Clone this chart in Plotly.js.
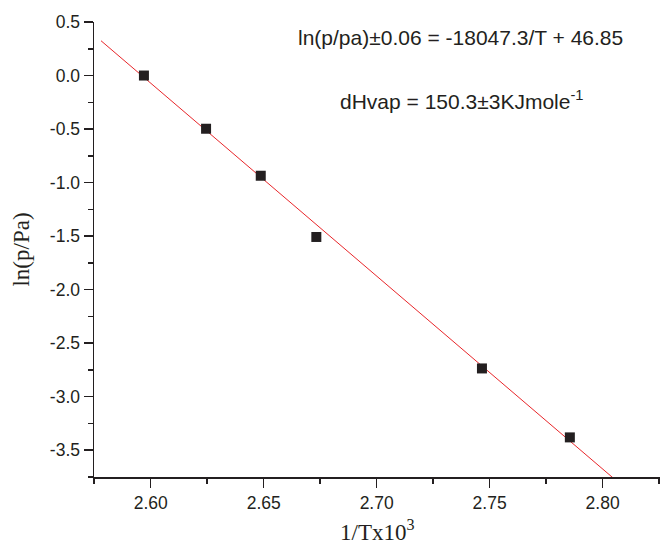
<!DOCTYPE html>
<html>
<head>
<meta charset="utf-8">
<script src="https://cdn.plot.ly/plotly-3.0.1.min.js"></script>
<style>html,body{margin:0;padding:0;background:#fff;}#chart{width:661px;height:544px;}</style>
</head>
<body>
<div id="chart"></div>
<script>
// measured points: 1/T x 10^3 and ln(p/Pa)
const invT = [2.597, 2.6245, 2.6487, 2.6733, 2.7466, 2.7855];
const lnP = [0.0, -0.497, -0.936, -1.508, -2.736, -3.380];
// fitted line endpoints (as drawn)
const fitX = [2.578, 2.805];
const fitY = [0.325, -3.765];
// tick labels
const xTickVals = [2.60, 2.65, 2.70, 2.75, 2.80];
const xTickText = ['2.60', '2.65', '2.70', '2.75', '2.80'];
const yTickVals = [0.5, 0.0, -0.5, -1.0, -1.5, -2.0, -2.5, -3.0, -3.5];
const yTickText = ['0.5', '0.0', '-0.5', '-1.0', '-1.5', '-2.0', '-2.5', '-3.0', '-3.5'];
const xTitle = '1/Tx10<sup>3</sup>';
const yTitle = 'ln(p/Pa)';
const eqText = 'ln(p/pa)±0.06 = -18047.3/T + 46.85';
const dhText = 'dHvap = 150.3±3KJmole<sup>-1</sup>';

const ink = '#231f20';
const traces = [
  {x: fitX, y: fitY, mode: 'lines', line: {color: '#e8262a', width: 1}, hoverinfo: 'skip'},
  {x: invT, y: lnP, mode: 'markers', marker: {symbol: 'square', size: 10, color: ink}}
];
const axisCommon = {
  showgrid: false, zeroline: false, showline: true, linecolor: ink, linewidth: 1.5,
  ticks: 'outside', ticklen: 9, tickwidth: 1.5, tickcolor: ink,
  tickfont: {family: 'Liberation Sans, Arial, sans-serif', size: 17.5, color: ink},
  mirror: false, tickmode: 'array'
};
const serif = {family: 'Liberation Serif, Times New Roman, serif', size: 23, color: ink};
const sans = {family: 'Liberation Sans, Arial, sans-serif', size: 21, color: ink};
const layout = {
  width: 661, height: 544,
  margin: {l: 94, r: 1, t: 22, b: 67},
  paper_bgcolor: '#fff', plot_bgcolor: '#fff',
  showlegend: false,
  xaxis: Object.assign({}, axisCommon, {
    range: [2.5749, 2.8254], tickvals: xTickVals, ticktext: xTickText,
    minor: {tickmode: 'linear', tick0: 2.575, dtick: 0.025, ticklen: 5, tickwidth: 1.5, tickcolor: ink, ticks: 'outside'}
  }),
  yaxis: Object.assign({}, axisCommon, {
    range: [-3.75, 0.5], tickvals: yTickVals, ticktext: yTickText,
    minor: {tickmode: 'linear', tick0: 0.25, dtick: 0.25, ticklen: 5, tickwidth: 1.5, tickcolor: ink, ticks: 'outside'},
    title: {text: yTitle, font: serif, standoff: 14}
  }),
  annotations: [
    {xref: 'paper', yref: 'paper', x: 0.5, y: -0.118, text: xTitle, showarrow: false, xanchor: 'center', yanchor: 'middle', font: serif, borderpad: 0},
    {xref: 'paper', yref: 'paper', x: 0.647, y: 0.967, text: eqText, showarrow: false, xanchor: 'center', yanchor: 'middle', font: sans},
    {xref: 'paper', yref: 'paper', x: 0.649, y: 0.829, text: dhText, showarrow: false, xanchor: 'center', yanchor: 'middle', font: sans}
  ]
};
Plotly.newPlot('chart', traces, layout, {staticPlot: true, displayModeBar: false});
</script>
</body>
</html>
